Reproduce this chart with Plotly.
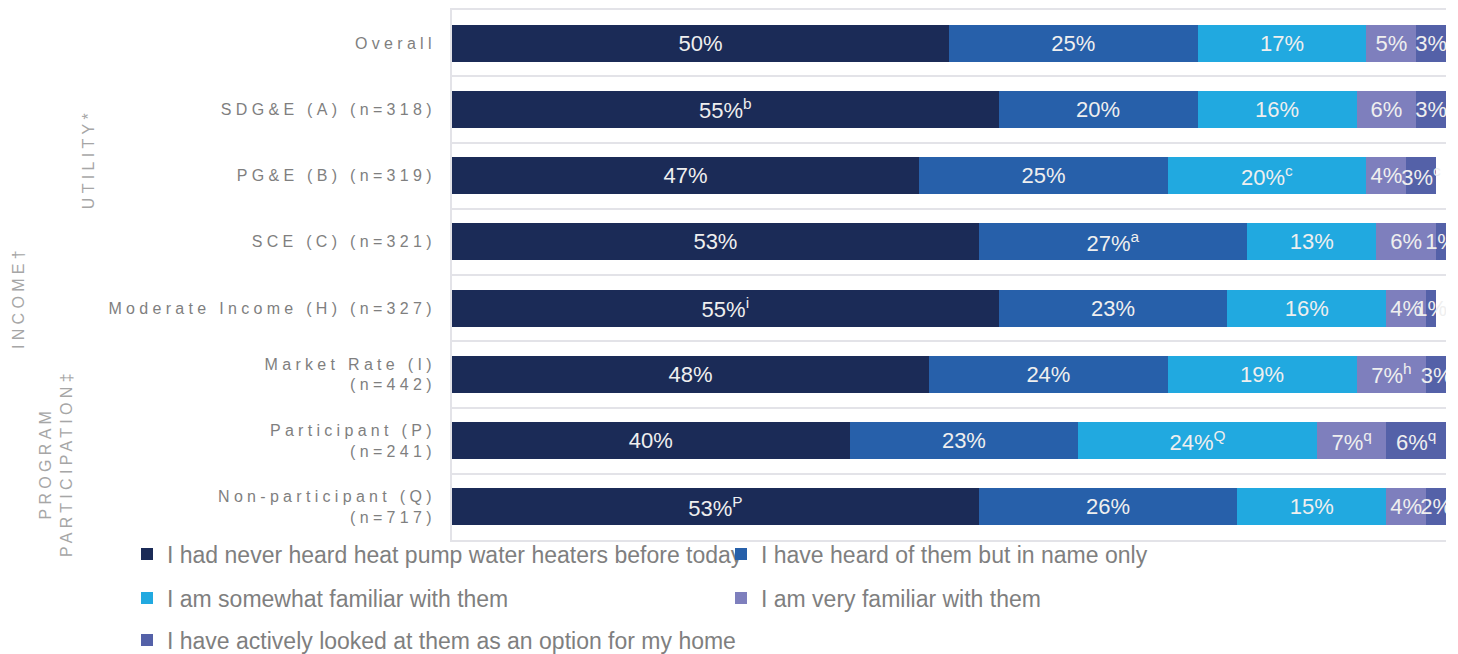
import plotly.graph_objects as go

# Survey groups (top to bottom)
categories = [
    "Overall",
    "SDG&E (A) (n=318)",
    "PG&E (B) (n=319)",
    "SCE (C) (n=321)",
    "Moderate Income (H) (n=327)",
    "Market Rate (I)<br>(n=442)",
    "Participant (P)<br>(n=241)",
    "Non-participant (Q)<br>(n=717)",
]

# Response shares (%) per awareness level
never_heard = [50, 55, 47, 53, 55, 48, 40, 53]
name_only = [25, 20, 25, 27, 23, 24, 23, 26]
somewhat_familiar = [17, 16, 20, 13, 16, 19, 24, 15]
very_familiar = [5, 6, 4, 6, 4, 7, 7, 4]
actively_looked = [3, 3, 3, 1, 1, 3, 6, 2]

# Significance markers shown as superscripts next to the values
never_heard_sig = ["", "b", "", "", "i", "", "", "P"]
name_only_sig = ["", "", "", "a", "", "", "", ""]
somewhat_familiar_sig = ["", "", "c", "", "", "", "Q", ""]
very_familiar_sig = ["", "", "", "", "", "h", "q", ""]
actively_looked_sig = ["", "", "c", "", "", "h", "q", ""]

series_names = [
    "I had never heard heat pump water heaters before today",
    "I have heard of them but in name only",
    "I am somewhat familiar with them",
    "I am very familiar with them",
    "I have actively looked at them as an option for my home",
]
series_values = [never_heard, name_only, somewhat_familiar, very_familiar, actively_looked]
series_sig = [never_heard_sig, name_only_sig, somewhat_familiar_sig, very_familiar_sig, actively_looked_sig]
colors = ["#1B2B57", "#2760AA", "#21A9E0", "#7E7FBD", "#5461A8"]
legend_ids = ["legend", "legend2", "legend3", "legend4", "legend5"]

W, H = 1458, 654
M_L, M_R, M_T, M_B = 452, 12, 10, 114

fig = go.Figure()
for name, vals, sig, color, lg in zip(series_names, series_values, series_sig, colors, legend_ids):
    labels = [f"{v}%" + (f"<sup>{s}</sup>" if s else "") for v, s in zip(vals, sig)]
    fig.add_trace(go.Bar(
        y=categories,
        x=vals,
        orientation="h",
        name=name,
        marker=dict(color=color, line=dict(width=0)),
        text=labels,
        textposition="inside",
        insidetextanchor="middle",
        textangle=0,
        constraintext="none",
        textfont=dict(family="Liberation Sans, Arial, sans-serif", size=22, color="#EFEFEF"),
        hoverinfo="skip",
        legend=lg,
    ))

grey_axis = "#E3E3E8"
label_grey = "#7F7F7F"
group_grey = "#A6A6A6"


def legend_at(px, py):
    """One-entry legend placed by pixel position of its entry."""
    return dict(
        orientation="h",
        xref="container",
        yref="container",
        x=(px - 20) / W,
        y=1 - py / H,
        xanchor="left",
        yanchor="middle",
        font=dict(family="Liberation Sans, Arial, sans-serif", size=23, color=label_grey),
        bgcolor="rgba(0,0,0,0)",
    )


fig.update_layout(
    width=W,
    height=H,
    margin=dict(l=M_L, r=M_R, t=M_T, b=M_B, autoexpand=False),
    paper_bgcolor="white",
    plot_bgcolor="white",
    barmode="stack",
    bargap=0.44,
    showlegend=True,
    legend=legend_at(147, 554),
    legend2=legend_at(741, 554),
    legend3=legend_at(147, 598),
    legend4=legend_at(741, 598),
    legend5=legend_at(147, 640),
    xaxis=dict(
        range=[0, 100],
        showticklabels=False,
        showgrid=False,
        zeroline=False,
        ticks="",
        showline=True,
        mirror=True,
        linecolor=grey_axis,
        linewidth=2,
        fixedrange=True,
    ),
    yaxis=dict(
        type="category",
        autorange="reversed",
        tickson="boundaries",
        showgrid=True,
        gridcolor=grey_axis,
        gridwidth=2,
        showline=True,
        linecolor=grey_axis,
        linewidth=2,
        ticks="",
        ticklabelstandoff=11,
        tickfont=dict(family="Liberation Sans, Arial, sans-serif", size=16, color=label_grey),
        fixedrange=True,
    ),
)

# Group labels along the left edge
group_font = dict(family="Liberation Sans, Arial, sans-serif", size=16, color=group_grey)
groups = [
    ("UTILITY*", 88, 159),
    ("INCOME†", 18, 298),
    ("PROGRAM<br>PARTICIPATION‡", 56, 463),
]
for text, px, py in groups:
    fig.add_annotation(
        text=text,
        xref="paper", yref="paper",
        x=(px - M_L) / (W - M_L - M_R),
        y=1 - (py - M_T) / (H - M_T - M_B),
        xanchor="center", yanchor="middle",
        textangle=-90,
        showarrow=False,
        font=group_font,
    )

spacing_js = """
document.querySelectorAll('.ytick text, .annotation-text').forEach(function (t) {
    t.style.letterSpacing = '4.3px';
});
"""

fig.write_html("out.html", post_script=spacing_js)
